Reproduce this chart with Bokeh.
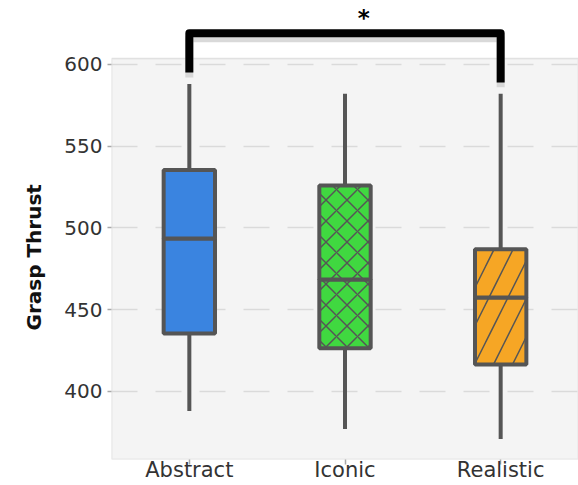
import math
from bokeh.plotting import figure
from bokeh.models import FactorRange, Range1d, FixedTicker, BoxAnnotation, Title, ColumnDataSource
from bokeh.embed import file_html
from bokeh.resources import INLINE
from bokeh.core.properties import value

# ---- data ----
categories = ["Abstract", "Iconic", "Realistic"]
lower = [388, 377, 371]
q1 = [435.5, 426.5, 416.5]
median = [493.5, 468.5, 457.5]
q3 = [535.5, 526, 487]
upper = [588, 582, 582]
fill_colors = ["#3a84e0", "#40d840", "#f6a625"]
hatches = [" ", "x", "/"]
hatch_scales = [21, 21, 38]
y_ticks = [400, 450, 500, 550, 600]
y_label = "Grasp Thrust"
sig_pair = ("Abstract", "Realistic")
sig_text = "*"

FONT = "DejaVu Sans"
EDGE = "#555555"

p = figure(width=578, height=485,
           x_range=FactorRange(*categories),
           y_range=Range1d(358.4, 639.1),
           output_backend="svg", toolbar_location=None,
           min_border_left=111, min_border_right=0,
           min_border_top=0, min_border_bottom=26)
p.background_fill_color = "white"
p.border_fill_color = "white"
p.outline_line_color = None

# gray plotting area
area = BoxAnnotation(top=603.7, fill_color="#f4f4f4", fill_alpha=1.0,
                     line_color="#a8a8a8", line_width=1.5, level="image")
p.add_layout(area)

# grid
p.xgrid.visible = False
p.ygrid.ticker = FixedTicker(ticks=y_ticks)
p.ygrid.grid_line_color = "#dadada"
p.ygrid.grid_line_width = 1.5
p.ygrid.grid_line_dash = "26 18"

# axes
p.yaxis.ticker = FixedTicker(ticks=y_ticks)
for ax in (p.xaxis, p.yaxis):
    ax.axis_line_color = None
    ax.major_tick_line_color = "#a8a8a8"
    ax.major_tick_line_width = 1.5
    ax.major_tick_in = 0
    ax.minor_tick_line_color = None
    ax.major_label_text_font = FONT
    ax.major_label_text_color = "#333333"
p.yaxis.major_label_text_font_size = "20px"
p.yaxis.major_tick_out = 4
p.yaxis.major_label_standoff = 5
p.xaxis.major_label_text_font_size = "21px"
p.xaxis.major_tick_out = 5
p.xaxis.major_label_standoff = -7

# boxes
src = ColumnDataSource(dict(cat=categories, lower=lower, q1=q1, median=median,
                            q3=q3, upper=upper, color=fill_colors, hatch=hatches,
                            hscale=hatch_scales))
p.segment(x0="cat", y0="q3", x1="cat", y1="upper", source=src,
          line_color=EDGE, line_width=4)
p.segment(x0="cat", y0="q1", x1="cat", y1="lower", source=src,
          line_color=EDGE, line_width=4)
for b, t in (("q1", "median"), ("median", "q3")):
    p.vbar(x="cat", width=0.33, bottom=b, top=t, source=src,
           fill_color="color", line_color=EDGE, line_width=4,
           hatch_pattern="hatch", hatch_color=EDGE, hatch_weight=1.5,
           hatch_scale="hscale")

# significance bracket
ia, ib = categories.index(sig_pair[0]), categories.index(sig_pair[1])
bar_y = 619
bx = [sig_pair[0], sig_pair[0], sig_pair[1], sig_pair[1]]
by = [upper[ia] + 7, bar_y, bar_y, upper[ib] + 7]
p.line(x=bx, y=[v - 3 for v in by], line_color="#cfcfcf", line_width=8,
       line_alpha=0.8, line_join="round")
p.line(x=bx, y=by, line_color="black", line_width=8, line_join="round")
p.text(x=[(ia + ib) / 2 + 0.5 + 0.12], y=[bar_y + 9.5], text=[sig_text],
       text_font=value(FONT), text_font_size="23px", text_font_style="bold",
       text_align="center", text_baseline="middle", text_color="black")

# y axis label (as a left-side title so it can be placed on the grey area)
p.add_layout(Title(text=y_label, align="left", offset=129, standoff=32,
                   text_font=FONT, text_font_size="20px", text_font_style="bold",
                   text_color="#111111"), "left")

open("out.html", "w").write(file_html(p, INLINE))
